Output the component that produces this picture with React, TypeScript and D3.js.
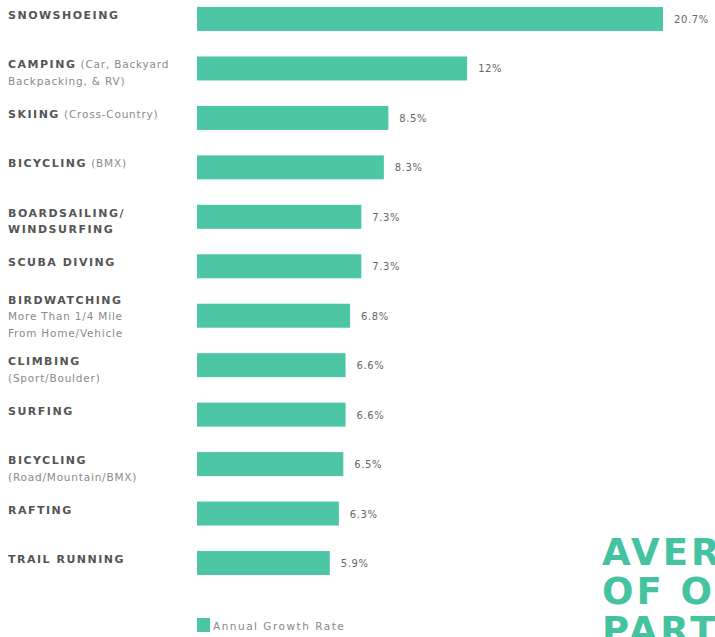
import React, { useEffect, useRef } from 'react';
import * as d3 from 'd3';

// one entry per activity, label split into lines of [bold part, regular part]
const activities = [
  'SNOWSHOEING', 'CAMPING', 'SKIING', 'BICYCLING', 'BOARDSAILING/WINDSURFING', 'SCUBA DIVING',
  'BIRDWATCHING', 'CLIMBING', 'SURFING', 'BICYCLING (ROAD)', 'RAFTING', 'TRAIL RUNNING',
];
const labelLines: [string, string][][] = [
  [['SNOWSHOEING', '']],
  [['CAMPING', ' (Car, Backyard'], ['', 'Backpacking, & RV)']],
  [['SKIING', ' (Cross-Country)']],
  [['BICYCLING', ' (BMX)']],
  [['BOARDSAILING/', ''], ['WINDSURFING', '']],
  [['SCUBA DIVING', '']],
  [['BIRDWATCHING', ''], ['', 'More Than 1/4 Mile'], ['', 'From Home/Vehicle']],
  [['CLIMBING', ''], ['', '(Sport/Boulder)']],
  [['SURFING', '']],
  [['BICYCLING', ''], ['', '(Road/Mountain/BMX)']],
  [['RAFTING', '']],
  [['TRAIL RUNNING', '']],
];
const growthRates = [20.7, 12, 8.5, 8.3, 7.3, 7.3, 6.8, 6.6, 6.6, 6.5, 6.3, 5.9];
const valueLabels = ['20.7%', '12%', '8.5%', '8.3%', '7.3%', '7.3%', '6.8%', '6.6%', '6.6%', '6.5%', '6.3%', '5.9%'];
const legendLabel = 'Annual Growth Rate';
const titleLines = ['AVERAGE', 'OF OUTDOOR', 'PARTICIPATION'];

const W = 715;
const H = 637;
const TEAL = '#4dc6a6';

export default function App() {
  const ref = useRef<SVGSVGElement>(null);

  useEffect(() => {
    const svg = d3.select(ref.current);
    svg.selectAll('*').remove();

    const idx = activities.map((_, i) => i);
    const y = d3.scaleBand<number>()
      .domain(idx)
      .range([7, 575])
      .paddingInner(0.515)
      .paddingOuter(0);
    const x = d3.scaleLinear().domain([0, 20.7]).range([197, 663]);

    // bars
    svg.append('g')
      .selectAll('rect')
      .data(idx)
      .join('rect')
      .attr('x', x(0))
      .attr('y', i => y(i)!)
      .attr('width', i => x(growthRates[i]) - x(0))
      .attr('height', y.bandwidth())
      .attr('fill', TEAL);

    // value labels
    svg.append('g')
      .selectAll('text')
      .data(idx)
      .join('text')
      .attr('x', i => x(growthRates[i]) + 11)
      .attr('y', i => y(i)! + y.bandwidth() / 2 + 4)
      .attr('font-family', 'DejaVu Sans, sans-serif')
      .attr('font-size', 10)
      .attr('letter-spacing', 0.6)
      .attr('fill', '#666')
      .text(i => valueLabels[i]);

    // category labels
    const labels = svg.append('g');
    idx.forEach(i => {
      const lines = labelLines[i];
      const top = y(i)! + (lines.length === 3 ? -4 : 8) + 4;
      lines.forEach(([bold, reg], j) => {
        const t = labels.append('text')
          .attr('x', 8)
          .attr('y', top + j * 16.5)
          .attr('font-family', 'DejaVu Sans, sans-serif');
        if (bold) {
          t.append('tspan')
            .attr('font-weight', 'bold')
            .attr('font-size', 11)
            .attr('letter-spacing', 1.5)
            .attr('fill', '#555')
            .text(bold);
        }
        if (reg) {
          t.append('tspan')
            .attr('font-size', 10.5)
            .attr('letter-spacing', 0.8)
            .attr('fill', '#8a8a8a')
            .text(reg);
        }
      });
    });

    // legend
    svg.append('rect')
      .attr('x', 197).attr('y', 618)
      .attr('width', 13).attr('height', 14)
      .attr('fill', TEAL);
    svg.append('text')
      .attr('x', 213).attr('y', 630)
      .attr('font-family', 'DejaVu Sans, sans-serif')
      .attr('font-size', 10.5)
      .attr('letter-spacing', 1.5)
      .attr('fill', '#888')
      .text(legendLabel);

    // big title, cut off by the frame
    svg.append('g')
      .selectAll('text')
      .data(titleLines)
      .join('text')
      .attr('x', 602)
      .attr('y', (_, j) => 565 + j * 39)
      .attr('font-family', 'DejaVu Sans, sans-serif')
      .attr('font-weight', 'bold')
      .attr('font-size', 37)
      .attr('letter-spacing', 3)
      .attr('fill', '#45c3a0')
      .text(d => d);
  }, []);

  return (
    <svg
      ref={ref}
      width={W}
      height={H}
      style={{ position: 'absolute', left: 0, top: 0, background: '#fff' }}
    />
  );
}
